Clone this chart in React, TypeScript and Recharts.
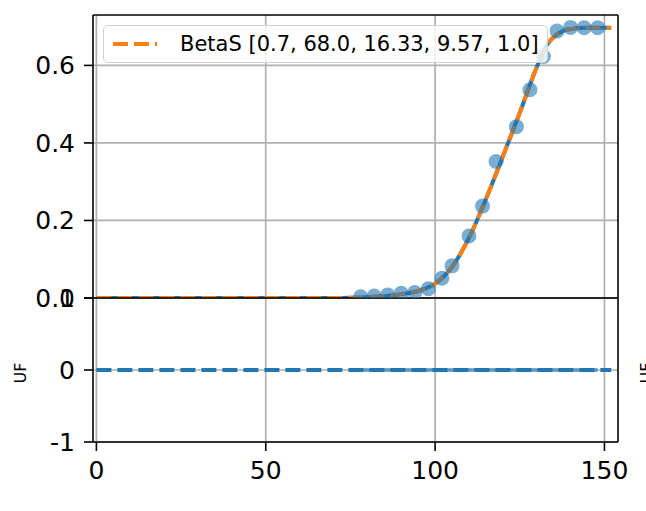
import React from 'react';
import { ComposedChart, Line, Scatter, XAxis, YAxis, ReferenceLine, Legend } from 'recharts';

// x range shared by both panels
const XMIN = -1;
const XMAX = 154;
const xTicks = [0, 50, 100, 150];

// observed points (top panel)
const obsX = [78, 82, 86, 90, 94, 98, 102, 105, 110, 114, 118, 124, 128, 132, 136, 140, 144, 148];
const obsY = [0.003, 0.005, 0.008, 0.012, 0.014, 0.024, 0.051, 0.083, 0.16, 0.237, 0.352, 0.442, 0.537, 0.623, 0.689, 0.698, 0.697, 0.697];

// fitted BetaS curve
const fitX = [0, 70, 75, 80, 85, 90, 95, 100, 105, 110, 115, 120, 125, 130, 133, 136, 140, 145, 152];
const fitY = [0, 0, 0.0005, 0.002, 0.005, 0.01, 0.018, 0.037, 0.08, 0.155, 0.255, 0.365, 0.478, 0.595, 0.653, 0.68, 0.694, 0.697, 0.697];

const topYTicks = [0, 0.2, 0.4, 0.6];
const TOP_YMAX = 0.73;

// bottom panel (UF)
const bottomYTicks = [-1, 0, 1];
const zeroX = [0, 152];
const zeroY = [0, 0];
const residX = [78, 148];
const residY = [0, 0];

const legendLabel = 'BetaS [0.7, 68.0, 16.33, 9.57, 1.0]';

const obs = obsX.map((x, i) => ({ x, y: obsY[i] }));
const fit = fitX.map((x, i) => ({ x, y: fitY[i] }));
const zero = zeroX.map((x, i) => ({ x, y: zeroY[i] }));
const resid = residX.map((x, i) => ({ x, y: residY[i] }));

const blue = '#1f77b4';
const orange = '#ff7f0e';
const gridColor = '#b0b0b0';
const font = 'DejaVu Sans, sans-serif';
const tickStyle = { fill: '#000', fontSize: 25, fontFamily: font };

const LegendBox = () => (
  <div
    style={{
      width: 443,
      height: 36,
      border: '1px solid #d0d0d0',
      borderRadius: 5,
      background: 'rgba(255,255,255,0.8)',
      display: 'flex',
      alignItems: 'center',
      fontFamily: font,
      fontSize: 21,
      color: '#000',
    }}
  >
    <svg width={60} height={10} style={{ marginLeft: 8, marginRight: 8 }}>
      <line x1={1} y1={5} x2={45} y2={5} stroke={orange} strokeWidth={4} strokeDasharray="15 6" />
    </svg>
    <span style={{ whiteSpace: 'nowrap' }}>{legendLabel}</span>
  </div>
);

const App: React.FC = () => {
  return (
    <div style={{ position: 'absolute', left: 0, top: 0, width: 646, height: 511, background: '#fff' }}>
      {/* bottom panel */}
      <div style={{ position: 'absolute', left: 0, top: 0 }}>
        <ComposedChart width={646} height={511} margin={{ top: 298, right: 28, bottom: 29, left: 0 }}>
          <XAxis
            type="number"
            dataKey="x"
            domain={[XMIN, XMAX]}
            ticks={xTicks}
            allowDataOverflow
            height={40}
            tick={tickStyle}
            tickSize={9}
            tickMargin={10}
            tickLine={{ stroke: '#000', strokeWidth: 1.6 }}
            axisLine={{ stroke: '#000', strokeWidth: 1.6 }}
          />
          <YAxis
            type="number"
            domain={[-1, 1]}
            ticks={bottomYTicks}
            allowDataOverflow
            width={93}
            tick={tickStyle}
            tickSize={9}
            tickMargin={9}
            tickFormatter={(v: number) => String(v)}
            tickLine={{ stroke: '#000', strokeWidth: 1.6 }}
            axisLine={{ stroke: '#000', strokeWidth: 1.6 }}
          />
          {xTicks.map((t) => (
            <ReferenceLine key={'bx' + t} x={t} stroke={gridColor} strokeWidth={1.7} />
          ))}
          {bottomYTicks.map((t) => (
            <ReferenceLine key={'by' + t} y={t} stroke={gridColor} strokeWidth={1.7} />
          ))}
          <Line data={resid} dataKey="y" stroke={blue} strokeOpacity={0.6} strokeWidth={4} dot={false} activeDot={false} isAnimationActive={false} />
          <Line data={zero} dataKey="y" stroke={blue} strokeWidth={4} strokeDasharray="15 6" dot={false} activeDot={false} isAnimationActive={false} />
          <ReferenceLine y={1} stroke="#000" strokeWidth={1.6} />
          <ReferenceLine x={XMAX} stroke="#000" strokeWidth={1.6} />
        </ComposedChart>
      </div>

      {/* top panel */}
      <div style={{ position: 'absolute', left: 0, top: 0 }}>
        <ComposedChart width={646} height={511} margin={{ top: 15, right: 28, bottom: 213, left: 0 }}>
          <XAxis type="number" dataKey="x" domain={[XMIN, XMAX]} allowDataOverflow hide />
          <YAxis
            type="number"
            domain={[0, TOP_YMAX]}
            ticks={topYTicks}
            allowDataOverflow
            width={93}
            tick={tickStyle}
            tickSize={9}
            tickMargin={9}
            tickFormatter={(v: number) => v.toFixed(1)}
            tickLine={{ stroke: '#000', strokeWidth: 1.6 }}
            axisLine={{ stroke: '#000', strokeWidth: 1.6 }}
          />
          {xTicks.map((t) => (
            <ReferenceLine key={'tx' + t} x={t} stroke={gridColor} strokeWidth={1.7} />
          ))}
          {topYTicks.map((t) => (
            <ReferenceLine key={'ty' + t} y={t} stroke={gridColor} strokeWidth={1.7} />
          ))}
          <Scatter
            data={obs}
            dataKey="y"
            isAnimationActive={false}
            shape={(p: any) => <circle cx={p.cx} cy={p.cy} r={7.5} fill={blue} fillOpacity={0.6} />}
          />
          <Line data={fit} dataKey="y" type="monotone" stroke={blue} strokeWidth={4} dot={false} activeDot={false} isAnimationActive={false} />
          <Line data={fit} dataKey="y" type="monotone" stroke={orange} strokeWidth={4} strokeDasharray="15 6" dot={false} activeDot={false} isAnimationActive={false} />
          <ReferenceLine y={0} stroke="#000" strokeWidth={1.6} />
          <ReferenceLine y={TOP_YMAX} stroke="#000" strokeWidth={1.6} />
          <ReferenceLine x={XMAX} stroke="#000" strokeWidth={1.6} />
          <Legend
            layout="horizontal"
            verticalAlign="middle"
            align="center"
            content={() => <LegendBox />}
            wrapperStyle={{ left: 103, top: 25, width: 'auto' }}
          />
        </ComposedChart>
      </div>

      {/* axis titles */}
      <svg width={646} height={511} style={{ position: 'absolute', left: 0, top: 0, pointerEvents: 'none' }}>
        <text x={26} y={373} transform="rotate(-90 26 373)" textAnchor="middle" fontFamily={font} fontSize={16} fill="#000">
          UF
        </text>
        <text x={652} y={373} transform="rotate(-90 652 373)" textAnchor="middle" fontFamily={font} fontSize={16} fill="#000">
          UF
        </text>
      </svg>
    </div>
  );
};

export default App;
